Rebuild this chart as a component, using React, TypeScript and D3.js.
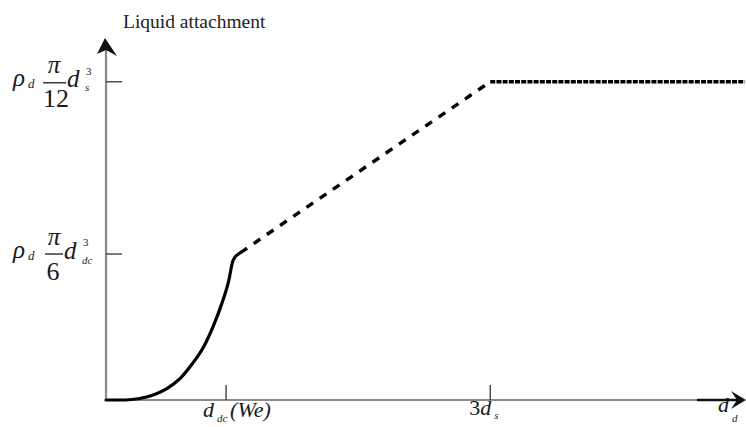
import React from "react";
import * as d3 from "d3";

const width = 746;
const height = 427;

// abstract units: x in d_dc, y in rho*pi/6*d_dc^3
const xTicks = [1, 3.2]; // d_dc(We), 3d_s
const yTicks = [1, 2.18]; // rho pi/6 d_dc^3, rho pi/12 d_s^3

// breakup growth curve (solid)
const growthX = [0, 0.16, 0.28, 0.41, 0.51, 0.62, 0.72, 0.81, 0.89, 0.96, 1.02, 1.06, 1.12];
const growthY = [0, 0, 0.01, 0.04, 0.08, 0.15, 0.25, 0.36, 0.5, 0.65, 0.81, 0.96, 1.01];

// linear part (dashed) and plateau (fine dashes)
const rampX = [1.12, 3.2];
const rampY = [1.01, 2.18];
const plateauX = [3.2, 5.32];
const plateauY = [2.18, 2.18];

const serif = "Liberation Serif";

const x = d3.scaleLinear().domain([0, 5.33]).range([106, 746]);
const y = d3.scaleLinear().domain([0, 2.48]).range([400, 38]);

const toPts = (xs: number[], ys: number[]) => xs.map((v, i) => [v, ys[i]] as [number, number]);

const smooth = d3
  .line<[number, number]>()
  .x((d) => x(d[0]))
  .y((d) => y(d[1]))
  .curve(d3.curveMonotoneX);
const straight = d3
  .line<[number, number]>()
  .x((d) => x(d[0]))
  .y((d) => y(d[1]));

const T = (p: any) => <text {...p} style={{ fontFamily: serif }} />;

const App = () => {
  const y0 = y(0);
  const x0 = x(0);
  const ty1 = y(yTicks[1]);
  const ty0 = y(yTicks[0]);
  const tx0 = x(xTicks[0]);
  const tx1 = x(xTicks[1]);

  return (
    <svg
      width={width}
      height={height}
      viewBox={`0 0 ${width} ${height}`}
      style={{ position: "fixed", left: 0, top: 0, background: "#fff" }}
    >
      {/* title */}
      <T x={123} y={28} fontSize={19.5} fill="#222">
        Liquid attachment
      </T>

      {/* axes */}
      <line x1={x0} y1={y0} x2={698} y2={y0} stroke="#8a8a8a" strokeWidth={2.2} />
      <line x1={697} y1={y0} x2={740} y2={y0} stroke="#111" strokeWidth={2.4} />
      <path d={`M746,${y0} L731,${y0 - 9} L737,${y0} L731,${y0 + 9} Z`} fill="#111" />
      <line x1={x0} y1={y0} x2={x0} y2={50} stroke="#8a8a8a" strokeWidth={2.2} />
      <path d={`M105,38 L97,54 L106,50 L117,56 Z`} fill="#111" />

      {/* y ticks */}
      {yTicks.map((t) => (
        <line key={t} x1={x0} x2={x0 + 16} y1={y(t)} y2={y(t)} stroke="#333" strokeWidth={1.3} />
      ))}
      {/* x ticks */}
      {xTicks.map((t) => (
        <line key={t} x1={x(t)} x2={x(t)} y1={y0 - 15} y2={y0} stroke="#333" strokeWidth={1.3} />
      ))}

      {/* curves */}
      <path d={smooth(toPts(growthX, growthY)) || ""} fill="none" stroke="#000" strokeWidth={3.2} strokeLinecap="round" />
      <path d={straight(toPts(rampX, rampY)) || ""} fill="none" stroke="#000" strokeWidth={3.4} strokeDasharray="8,8" />
      <path d={straight(toPts(plateauX, plateauY)) || ""} fill="none" stroke="#000" strokeWidth={3.6} strokeDasharray="5,1.2" />

      {/* y tick label: rho_d pi/12 d_s^3 */}
      <g fill="#1a1a1a">
        <T x={13} y={ty1 + 4} fontSize={25} fontStyle="italic">ρ</T>
        <T x={28} y={ty1 + 6} fontSize={13} fontStyle="italic">d</T>
        <T x={54} y={ty1 - 9} fontSize={25} fontStyle="italic" textAnchor="middle">π</T>
        <line x1={43} x2={66} y1={ty1 + 1} y2={ty1 + 1} stroke="#1a1a1a" strokeWidth={1.3} />
        <T x={56} y={ty1 + 25} fontSize={26} textAnchor="middle">12</T>
        <T x={67} y={ty1 + 5} fontSize={25} fontStyle="italic">d</T>
        <T x={86} y={ty1 - 7} fontSize={11}>3</T>
        <T x={85} y={ty1 + 9} fontSize={11} fontStyle="italic">s</T>
      </g>

      {/* y tick label: rho_d pi/6 d_dc^3 */}
      <g fill="#1a1a1a">
        <T x={13} y={ty0 + 4} fontSize={25} fontStyle="italic">ρ</T>
        <T x={28} y={ty0 + 6} fontSize={13} fontStyle="italic">d</T>
        <T x={54} y={ty0 - 9} fontSize={25} fontStyle="italic" textAnchor="middle">π</T>
        <line x1={45} x2={63} y1={ty0} y2={ty0} stroke="#1a1a1a" strokeWidth={1.3} />
        <T x={53} y={ty0 + 26} fontSize={26} textAnchor="middle">6</T>
        <T x={64} y={ty0 + 5} fontSize={25} fontStyle="italic">d</T>
        <T x={83} y={ty0 - 8} fontSize={11}>3</T>
        <T x={82} y={ty0 + 10} fontSize={11} fontStyle="italic">dc</T>
      </g>

      {/* x tick labels */}
      <g fill="#1a1a1a">
        <T x={tx0 - 23} y={y0 + 17} fontSize={22} fontStyle="italic">d</T>
        <T x={tx0 - 9} y={y0 + 22} fontSize={11} fontStyle="italic">dc</T>
        <T x={tx0 + 4} y={y0 + 17} fontSize={22} fontStyle="italic">(We)</T>

        <T x={tx1 - 21} y={y0 + 15} fontSize={22}>3</T>
        <T x={tx1 - 10} y={y0 + 15} fontSize={22} fontStyle="italic">d</T>
        <T x={tx1 + 4} y={y0 + 19} fontSize={11} fontStyle="italic">s</T>

        <T x={718} y={y0 + 12} fontSize={22} fontStyle="italic">d</T>
        <T x={732} y={y0 + 22} fontSize={11} fontStyle="italic">d</T>
      </g>
    </svg>
  );
};

export default App;
